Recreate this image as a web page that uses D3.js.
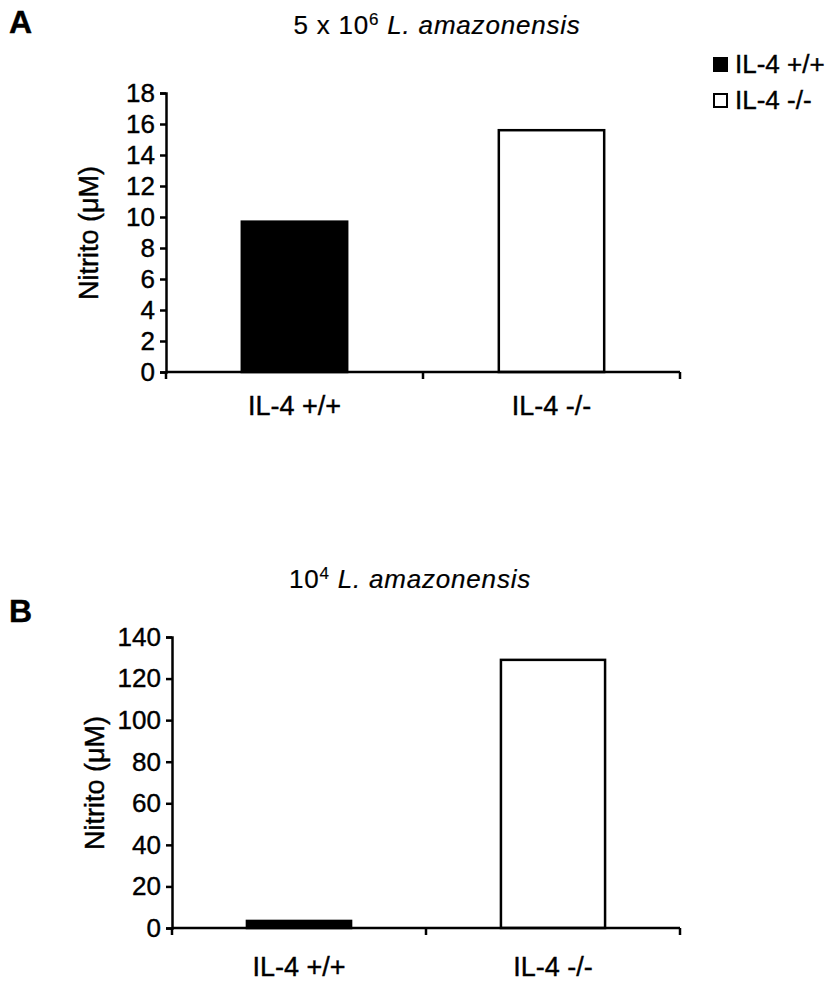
<!DOCTYPE html>
<html>
<head>
<meta charset="utf-8">
<script src="https://cdn.jsdelivr.net/npm/d3@7"></script>
<style>
  body { margin: 0; background: #fff; }
  svg { display: block; font-family: "Liberation Sans", Arial, sans-serif; }
  svg text { stroke: #000; stroke-width: 0.4px; }
</style>
</head>
<body>
<svg id="chart" width="837" height="984"></svg>
<script>
// data
const groups = ['IL-4 +/+', 'IL-4 -/-'];
const fills = ['#000', '#fff'];
const nitriteA = [9.7, 15.6];   // 5 x 10^6 L. amazonensis
const nitriteB = [3.4, 129];    // 10^4 L. amazonensis
const ticksA = [0, 2, 4, 6, 8, 10, 12, 14, 16, 18];
const ticksB = [0, 20, 40, 60, 80, 100, 120, 140];

const svg = d3.select('#chart');

let drawPanel = (p) => {
  const g = svg.append('g').classed('panel', true);

  const y = d3.scaleLinear().domain([0, p.max]).range([p.bottom, p.top]);
  const x = d3.scaleBand()
    .domain(groups)
    .range([p.left, p.right])
    .paddingInner(0.59)
    .paddingOuter(0.295);

  // bars
  g.append('g')
    .selectAll('rect')
    .data(p.values)
    .enter()
    .append('rect')
    .attr('x', (d, i) => x(groups[i]))
    .attr('y', d => y(d))
    .attr('width', x.bandwidth())
    .attr('height', d => y(0) - y(d))
    .attr('fill', (d, i) => fills[i])
    .attr('stroke', '#000')
    .attr('stroke-width', 2.5);

  // y axis
  const yAxis = g.append('g')
    .attr('transform', `translate(${p.left},0)`)
    .call(d3.axisLeft(y).tickValues(p.ticks).tickSize(6).tickSizeOuter(6).tickPadding(5));
  yAxis.selectAll('text')
    .style('font-size', '26px')
    .attr('fill', '#000');
  yAxis.selectAll('line, path').attr('stroke', '#000').attr('stroke-width', 2.5);

  // x axis: ticks sit between the groups, labels under the bars
  const step = x.step();
  const bounds = d3.range(groups.length + 1).map(i => p.left + i * step);
  g.append('line')
    .attr('x1', p.left).attr('x2', p.right)
    .attr('y1', y(0)).attr('y2', y(0))
    .attr('stroke', '#000').attr('stroke-width', 2.5);
  g.append('g')
    .selectAll('line')
    .data(bounds)
    .enter()
    .append('line')
    .attr('x1', d => d).attr('x2', d => d)
    .attr('y1', y(0)).attr('y2', y(0) + 7)
    .attr('stroke', '#000').attr('stroke-width', 2.5);
  g.append('g')
    .selectAll('text')
    .data(groups)
    .enter()
    .append('text')
    .attr('x', d => x(d) + x.bandwidth() / 2)
    .attr('y', y(0) + p.labelDy)
    .attr('text-anchor', 'middle')
    .style('font-size', '27px')
    .text(d => d);

  // y label
  g.append('text')
    .attr('transform', `translate(${p.yLabelX},${p.yLabelY}) rotate(-90)`)
    .attr('text-anchor', 'middle')
    .style('font-size', '27px')
    .text('Nitrito (μM)');

  // title
  const t = g.append('text')
    .attr('x', p.titleX)
    .attr('y', p.titleY)
    .attr('text-anchor', 'middle')
    .style('font-size', '26px')
    .style('letter-spacing', '0.8px')
    .style('stroke-width', '0.2px');
  t.append('tspan').text(p.titlePre);
  t.append('tspan').attr('dy', -9).style('font-size', '17px').text(p.titleExp);
  t.append('tspan').attr('dy', 9).text(' ');
  t.append('tspan').style('font-style', 'italic').text('L. amazonensis');

  // panel letter
  g.append('text')
    .attr('x', 9)
    .attr('y', p.letterY)
    .style('font-size', '32px')
    .style('font-weight', 'bold')
    .text(p.letter);
};

drawPanel({
  letter: 'A', letterY: 33,
  values: nitriteA, ticks: ticksA, max: 18,
  left: 166, right: 680, top: 93, bottom: 372,
  labelDy: 43,
  yLabelX: 98, yLabelY: 233,
  titlePre: '5 x 10', titleExp: '6', titleX: 437, titleY: 34
});

drawPanel({
  letter: 'B', letterY: 622,
  values: nitriteB, ticks: ticksB, max: 140,
  left: 172, right: 680, top: 637, bottom: 928,
  labelDy: 48,
  yLabelX: 104, yLabelY: 783,
  titlePre: '10', titleExp: '4', titleX: 410, titleY: 588
});

// legend
const legend = svg.append('g').classed('legend', true);
const rows = legend.selectAll('g')
  .data(groups)
  .enter()
  .append('g')
  .attr('transform', (d, i) => `translate(713,${57 + i * 36})`);
rows.append('rect')
  .attr('x', 1).attr('y', 1)
  .attr('width', 13).attr('height', 13)
  .attr('fill', (d, i) => fills[i])
  .attr('stroke', '#000')
  .attr('stroke-width', 2);
rows.append('text')
  .attr('x', 22).attr('y', 16)
  .style('font-size', '26px')
  .text(d => d);
</script>
</body>
</html>
